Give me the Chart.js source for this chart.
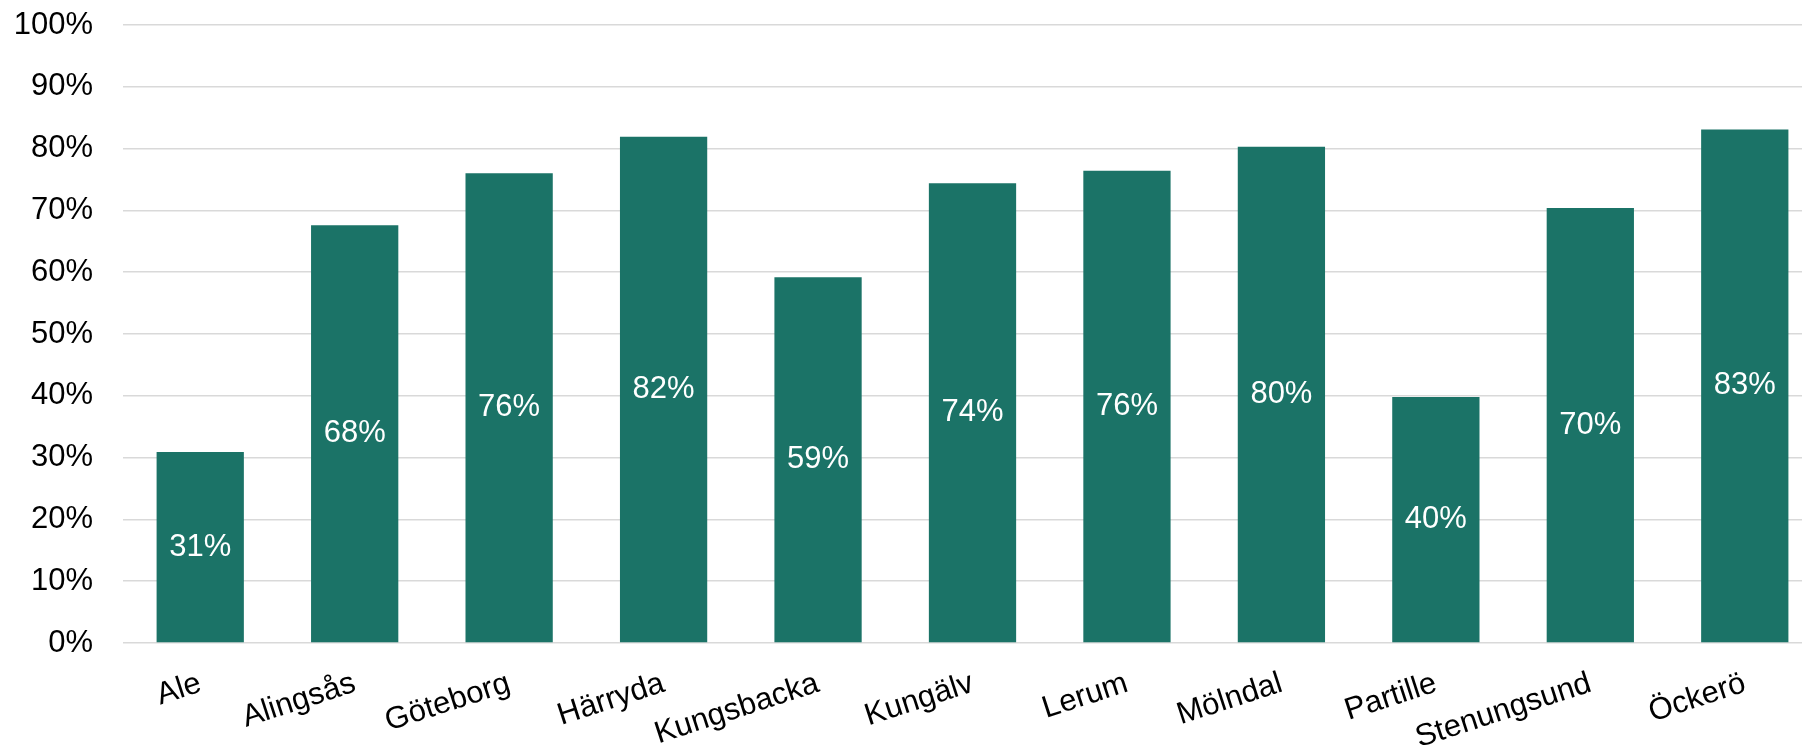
<!DOCTYPE html>
<html>
<head>
<meta charset="utf-8">
<script src="https://cdn.jsdelivr.net/npm/chart.js@4"></script>
<style>
  html, body { margin: 0; padding: 0; background: #ffffff; overflow: hidden; }
  #wrap { width: 1822px; height: 748px; position: relative; }
</style>
</head>
<body>
<div id="wrap"><canvas id="c"></canvas></div>
<script>
const categories = ['Ale', 'Alingsås', 'Göteborg', 'Härryda', 'Kungsbacka', 'Kungälv', 'Lerum', 'Mölndal', 'Partille', 'Stenungsund', 'Öckerö'];
const shareValues = [30.9, 67.6, 76.0, 81.9, 59.2, 74.4, 76.4, 80.3, 39.8, 70.4, 83.1];
const yTickValues = [0, 10, 20, 30, 40, 50, 60, 70, 80, 90, 100];

const FONT = '"Liberation Sans", Arial, sans-serif';

const valueLabels = {
  id: 'valueLabels',
  afterDatasetsDraw(chart) {
    const ctx = chart.ctx;
    const meta = chart.getDatasetMeta(0);
    ctx.save();
    ctx.fillStyle = '#ffffff';
    ctx.font = '31px ' + FONT;
    ctx.textAlign = 'center';
    ctx.textBaseline = 'middle';
    meta.data.forEach((bar, i) => {
      const p = bar.getProps(['x', 'y', 'base'], true);
      ctx.fillText(Math.round(shareValues[i]) + '%', p.x, (p.y + p.base) / 2);
    });
    ctx.restore();
  }
};

new Chart(document.getElementById('c'), {
  type: 'bar',
  data: {
    labels: categories,
    datasets: [{
      data: shareValues,
      backgroundColor: '#1b7367',
      borderWidth: 0,
      categoryPercentage: 1,
      barPercentage: 0.565
    }]
  },
  options: {
    responsive: true,
    maintainAspectRatio: false,
    animation: false,
    layout: { padding: 0 },
    plugins: {
      legend: { display: false },
      tooltip: { enabled: false }
    },
    scales: {
      x: {
        grid: { display: false },
        border: { display: false },
        ticks: {
          color: '#000000',
          font: { family: FONT, size: 31 },
          minRotation: 18,
          maxRotation: 18,
          padding: 14,
          autoSkip: false
        },
        afterFit(scale) { scale.height = 105; }
      },
      y: {
        min: 0,
        max: 100,
        afterBuildTicks(scale) { scale.ticks = yTickValues.map(v => ({ value: v })); },
        grid: { color: '#d9d9d9', lineWidth: 1.6, drawTicks: false },
        border: { display: false },
        ticks: {
          color: '#000000',
          font: { family: FONT, size: 31 },
          padding: 30,
          callback: v => v + '%'
        },
        afterFit(scale) {
          scale.width = 123;
          scale.paddingTop = 25;
          scale.paddingBottom = 20;
        }
      }
    }
  },
  plugins: [valueLabels]
});
</script>
</body>
</html>
